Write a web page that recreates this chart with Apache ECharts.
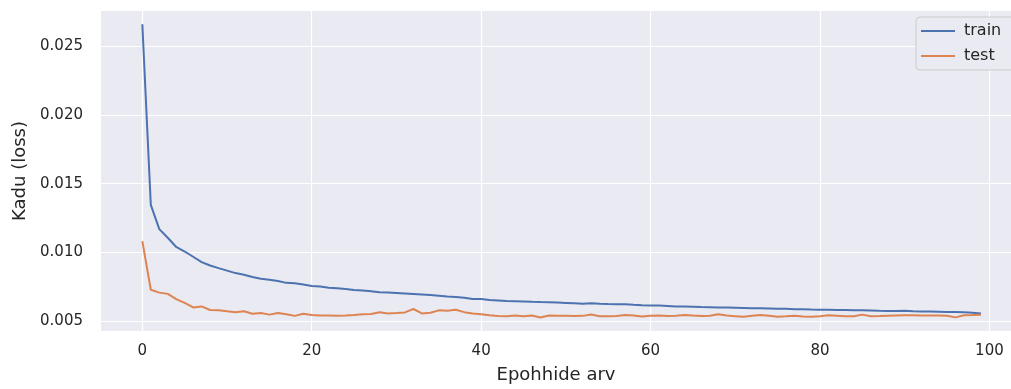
<!DOCTYPE html>
<html>
<head>
<meta charset="utf-8">
<script src="https://cdn.jsdelivr.net/npm/echarts@6/dist/echarts.min.js"></script>
<style>html,body{margin:0;padding:0;background:#fff}#c{width:1011px;height:389px}</style>
</head>
<body>
<div id="c"></div>
<script>
const epochs = Array.from({length: 100}, (_, i) => i);
const train = [
0.0266,0.01346,0.01170,0.01107,0.01040,0.01007,0.00969,0.00930,0.00905,0.00886,
0.00868,0.00850,0.00838,0.00822,0.00809,0.00802,0.00792,0.00779,0.00776,0.00767,
0.00757,0.00753,0.00744,0.00739,0.00734,0.00728,0.00723,0.00718,0.00711,0.00709,
0.00706,0.00702,0.00698,0.00694,0.00690,0.00686,0.00680,0.00677,0.00671,0.00661,
0.00661,0.00654,0.00651,0.00648,0.00646,0.00644,0.00641,0.00639,0.00638,0.00636,
0.00633,0.00630,0.00627,0.00630,0.00627,0.00625,0.00624,0.00624,0.00620,0.00617,
0.00615,0.00614,0.00611,0.00608,0.00607,0.00605,0.00603,0.00602,0.00600,0.00599,
0.00598,0.00597,0.00594,0.00594,0.00593,0.00591,0.00590,0.00588,0.00587,0.00585,
0.00584,0.00583,0.00582,0.00581,0.00580,0.00579,0.00578,0.00576,0.00575,0.00574,
0.00576,0.00573,0.00571,0.00570,0.00569,0.00568,0.00567,0.00565,0.00562,0.00556
];
const test = [
0.01083,0.00729,0.00708,0.00699,0.00661,0.00634,0.00600,0.00608,0.00582,0.00580,
0.00572,0.00565,0.00572,0.00555,0.00560,0.00548,0.00560,0.00551,0.00539,0.00555,
0.00546,0.00542,0.00542,0.00540,0.00542,0.00546,0.00551,0.00553,0.00566,0.00557,
0.00560,0.00564,0.00589,0.00557,0.00562,0.00579,0.00577,0.00584,0.00566,0.00557,
0.00550,0.00543,0.00538,0.00537,0.00541,0.00537,0.00541,0.00527,0.00541,0.00539,
0.00539,0.00538,0.00539,0.00549,0.00537,0.00537,0.00538,0.00546,0.00542,0.00535,
0.00540,0.00541,0.00538,0.00540,0.00545,0.00541,0.00538,0.00540,0.00551,0.00541,
0.00537,0.00533,0.00540,0.00545,0.00540,0.00533,0.00536,0.00540,0.00535,0.00533,
0.00537,0.00543,0.00540,0.00536,0.00536,0.00548,0.00537,0.00538,0.00540,0.00542,
0.00543,0.00543,0.00542,0.00542,0.00541,0.00540,0.00528,0.00544,0.00545,0.00547
];
const xTicks = [0, 20, 40, 60, 80, 100];
const yTicks = [0.005, 0.010, 0.015, 0.020, 0.025];
const seriesNames = ['train', 'test'];
const colors = ['#4c72b0', '#dd8452'];

const FONT = 'DejaVu Sans';
const chart = echarts.init(document.getElementById('c'), null, {renderer: 'canvas'});
chart.setOption({
  animation: false,
  grid: {left: 101, right: 0, top: 11, bottom: 55, show: true, backgroundColor: '#eaeaf2', borderWidth: 0},
  xAxis: {
    type: 'value', min: -4.88, max: 102.55,
    name: 'Epohhide arv', nameLocation: 'middle', nameGap: 35,
    nameTextStyle: {fontFamily: FONT, fontSize: 18, color: '#262626'},
    axisLine: {show: false}, axisTick: {show: false, customValues: xTicks},
    axisLabel: {customValues: xTicks, fontFamily: FONT, fontSize: 15, color: '#262626', margin: 13},
    splitLine: {show: true, lineStyle: {color: '#ffffff', width: 1.2}}
  },
  yAxis: {
    type: 'value', min: 0.00429, max: 0.02756,
    name: 'Kadu (loss)', nameLocation: 'middle', nameGap: 72, nameRotate: 90,
    nameTextStyle: {fontFamily: FONT, fontSize: 18, color: '#262626'},
    axisLine: {show: false}, axisTick: {show: false, customValues: yTicks},
    axisLabel: {customValues: yTicks, fontFamily: FONT, fontSize: 15, color: '#262626', margin: 18,
      formatter: v => v.toFixed(3)},
    splitLine: {show: true, lineStyle: {color: '#ffffff', width: 1.2}}
  },
  legend: {
    orient: 'vertical', left: 916, top: 17, width: 120,
    backgroundColor: '#eaeaf2', borderColor: '#cccccc', borderWidth: 1, borderRadius: 4,
    padding: [6, 40, 6, 5], itemGap: 9, itemWidth: 34, itemHeight: 14,
    textStyle: {fontFamily: FONT, fontSize: 16, color: '#262626', padding: [0, 0, 0, 4]},
    data: seriesNames.map(n => ({name: n, icon: 'path://M0,6 H34 V8 H0 Z'}))
  },
  series: seriesNames.map((n, i) => ({
    name: n, type: 'line', showSymbol: false, symbol: 'none',
    data: epochs.map((e, k) => [e, (i === 0 ? train : test)[k]]),
    lineStyle: {color: colors[i], width: 2},
    itemStyle: {color: colors[i]}
  }))
});
</script>
</body>
</html>
